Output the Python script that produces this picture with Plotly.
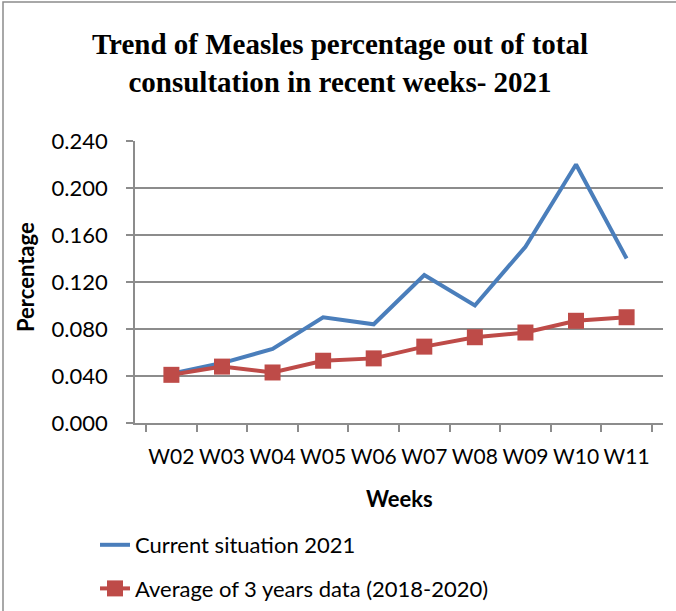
import plotly.graph_objects as go

weeks = ["W02", "W03", "W04", "W05", "W06", "W07", "W08", "W09", "W10", "W11"]
current_2021 = [0.042, 0.051, 0.063, 0.090, 0.084, 0.126, 0.100, 0.150, 0.220, 0.140]
avg_2018_2020 = [0.041, 0.048, 0.043, 0.053, 0.055, 0.065, 0.073, 0.077, 0.087, 0.090]
y_ticks = [0.0, 0.04, 0.08, 0.12, 0.16, 0.20, 0.24]

W, H = 676, 611
L, R, T, B = 135, 13, 141, 188
pw, ph = W - L - R, H - T - B

def px(x):
    return (x - L) / pw

def py(y):
    return (H - B - y) / ph

font_sans = "Lato, 'Open Sans', sans-serif"
grid_col = "#8c8c8c"

fig = go.Figure()
fig.add_trace(go.Scatter(
    x=weeks, y=current_2021, mode="lines", name="Current situation 2021",
    line=dict(color="#4A7EBB", width=4), legendgroup="a"))
fig.add_trace(go.Scatter(
    x=weeks, y=avg_2018_2020, mode="lines+markers",
    name="Average of 3 years data (2018-2020)",
    line=dict(color="#BE4B48", width=4),
    marker=dict(symbol="square", size=16, color="#BE4B48"), legendgroup="b"))

fig.update_layout(
    width=W, height=H,
    margin=dict(l=L, r=R, t=T, b=B, autoexpand=False),
    paper_bgcolor="white", plot_bgcolor="white",
    title=dict(
        text="Trend of Measles percentage out of total<br>consultation in recent weeks- 2021",
        font=dict(family="'Liberation Serif', 'Times New Roman', serif", size=29, color="black", weight="bold"),
        x=340 / W, xref="container", xanchor="center",
        y=1 - 54 / H, yref="container", yanchor="middle"),
    xaxis=dict(
        type="category", tickson="boundaries", ticks="outside", ticklen=7,
        tickcolor=grid_col, tickwidth=1.5, tickangle=0,
        showline=True, linecolor=grid_col, linewidth=1.5,
        showgrid=False, tickfont=dict(family=font_sans, size=21, color="black"),
        ticklabelstandoff=14, automargin=False),
    yaxis=dict(
        range=[0, 0.24], tickvals=y_ticks, tickformat=".3f",
        ticks="outside", ticklen=7, tickcolor=grid_col, tickwidth=1.5,
        showline=True, linecolor=grid_col, linewidth=1.5,
        showgrid=True, gridcolor=grid_col, gridwidth=1.5, zeroline=False,
        tickfont=dict(family=font_sans, size=22, color="black"),
        ticklabelstandoff=14, automargin=False),
    legend=dict(
        x=95 / W, xref="container", xanchor="left",
        y=1 - 524 / H, yref="container", yanchor="top",
        font=dict(family=font_sans, size=22, color="black"),
        tracegroupgap=12, traceorder="grouped", bgcolor="rgba(0,0,0,0)"),
    showlegend=True,
)

fig.add_annotation(text="<b>Weeks</b>", xref="paper", yref="paper",
                   x=px(399), y=py(498), xanchor="center", yanchor="middle",
                   showarrow=False, font=dict(family=font_sans, size=22, color="black"))
fig.add_annotation(text="<b>Percentage</b>", xref="paper", yref="paper",
                   x=px(25), y=py(277), xanchor="center", yanchor="middle", textangle=-90,
                   showarrow=False, font=dict(family=font_sans, size=22, color="black"))

fig.add_shape(type="rect", xref="paper", yref="paper",
              x0=px(3), x1=px(700), y0=py(660), y1=py(2),
              line=dict(color="#8c8c8c", width=1.5), fillcolor="rgba(0,0,0,0)", layer="below")

fig.write_html("out.html", config={"displayModeBar": False},
               post_script="document.body.style.margin='0';")
